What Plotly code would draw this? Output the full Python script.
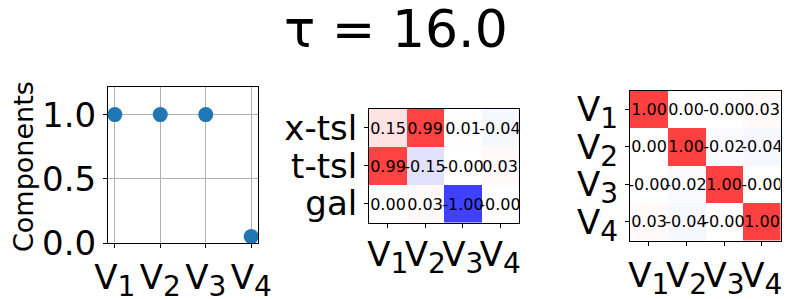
import plotly.graph_objects as go

# window size and page body offset (default 8px body margin)
WIN_W, WIN_H = 791, 299
OFF = 8
W, H = WIN_W - OFF, WIN_H - OFF

# ---- data ----
comp_names = ["1", "2", "3", "4"]
comp_values = [1.0, 1.0, 1.0, 0.05]

mid_rows = ["x-tsl", "t-tsl", "gal"]
mid_values = [
    [0.15, 0.99, 0.01, -0.04],
    [0.99, -0.15, -0.001, 0.03],
    [0.001, 0.03, -1.00, -0.001],
]

right_values = [
    [1.00, 0.001, -0.001, 0.03],
    [0.001, 1.00, -0.02, -0.04],
    [-0.001, -0.02, 1.00, -0.001],
    [0.03, -0.04, -0.001, 1.00],
]

title_text = "τ = 16.0"

SUB_PX = 28
comp_labels = [f"V<sub><span style='font-size:{SUB_PX}px'>{n}</span></sub>" for n in comp_names]
right_rows = comp_labels

# ---- helpers (positions given in window pixels) ----
def px_x(a):
    return (a - OFF) / W

def px_y(a):
    return 1 - (a - OFF) / H

def dx(a, b):
    return [px_x(a), px_x(b)]

def dy(top, bottom):
    return [px_y(bottom), px_y(top)]

bwr_alpha = [[0.0, "rgb(64,64,255)"], [0.5, "rgb(255,255,255)"], [1.0, "rgb(255,64,64)"]]
FONT = "DejaVu Sans"
TICK = 34

def fmt(m):
    return [[f"{v:.2f}" for v in row] for row in m]

fig = go.Figure()

fig.add_trace(go.Scatter(
    x=list(range(len(comp_values))), y=comp_values, mode="markers",
    marker=dict(size=15, color="#1f77b4"), xaxis="x", yaxis="y", showlegend=False,
    cliponaxis=False,
))

fig.add_trace(go.Heatmap(
    z=mid_values, x=list(range(4)), y=list(range(3)),
    colorscale=bwr_alpha, zmin=-1, zmax=1, showscale=False,
    text=fmt(mid_values), texttemplate="%{text}",
    textfont=dict(size=16, color="black", family=FONT),
    xaxis="x2", yaxis="y2", hoverinfo="skip",
))

fig.add_trace(go.Heatmap(
    z=right_values, x=list(range(4)), y=list(range(4)),
    colorscale=bwr_alpha, zmin=-1, zmax=1, showscale=False,
    text=fmt(right_values), texttemplate="%{text}",
    textfont=dict(size=16, color="black", family=FONT),
    xaxis="x3", yaxis="y3", hoverinfo="skip",
))

axis_common = dict(
    showline=True, linecolor="black", linewidth=1, mirror=True,
    ticks="outside", ticklen=4, tickwidth=1, tickcolor="black",
    tickfont=dict(size=TICK, color="black", family=FONT), zeroline=False,
    automargin=False, tickangle=0,
)

fig.update_layout(
    width=W, height=H, margin=dict(l=0, r=0, t=0, b=0),
    paper_bgcolor="white", plot_bgcolor="white",
    font=dict(family=FONT, color="black"),
    xaxis=dict(domain=dx(108, 258), range=[-0.15, 3.15],
               tickvals=list(range(4)), ticktext=comp_labels,
               showgrid=True, gridcolor="#b0b0b0", gridwidth=1, anchor="y", **axis_common),
    yaxis=dict(domain=dy(87, 243), range=[0, 1.215],
               tickvals=[0, 0.5, 1.0], ticktext=["0.0", "0.5", "1.0"],
               showgrid=True, gridcolor="#b0b0b0", gridwidth=1, anchor="x", **axis_common),
    xaxis2=dict(domain=dx(369, 519), range=[-0.5, 3.5],
                tickvals=list(range(4)), ticktext=comp_labels, ticklabelstandoff=-2,
                showgrid=False, anchor="y2", **axis_common),
    yaxis2=dict(domain=dy(109, 222.5), range=[2.5, -0.5],
                tickvals=list(range(3)), ticktext=mid_rows,
                showgrid=False, anchor="x2", **axis_common),
    xaxis3=dict(domain=dx(630, 780.5), range=[-0.5, 3.5],
                tickvals=list(range(4)), ticktext=comp_labels,
                showgrid=False, anchor="y3", **axis_common),
    yaxis3=dict(domain=dy(90.5, 240.7), range=[3.5, -0.5],
                tickvals=list(range(4)), ticktext=right_rows,
                showgrid=False, anchor="x3", **axis_common),
)

fig.add_annotation(text=title_text, x=px_x(396), y=px_y(29), xref="paper", yref="paper",
                   xanchor="center", yanchor="middle", showarrow=False,
                   font=dict(size=52, color="black", family=FONT))
fig.add_annotation(text="Components", x=px_x(24), y=px_y(167), xref="paper", yref="paper",
                   xanchor="center", yanchor="middle", textangle=-90, showarrow=False,
                   font=dict(size=27, color="black", family=FONT))

fig.write_html("out.html")
